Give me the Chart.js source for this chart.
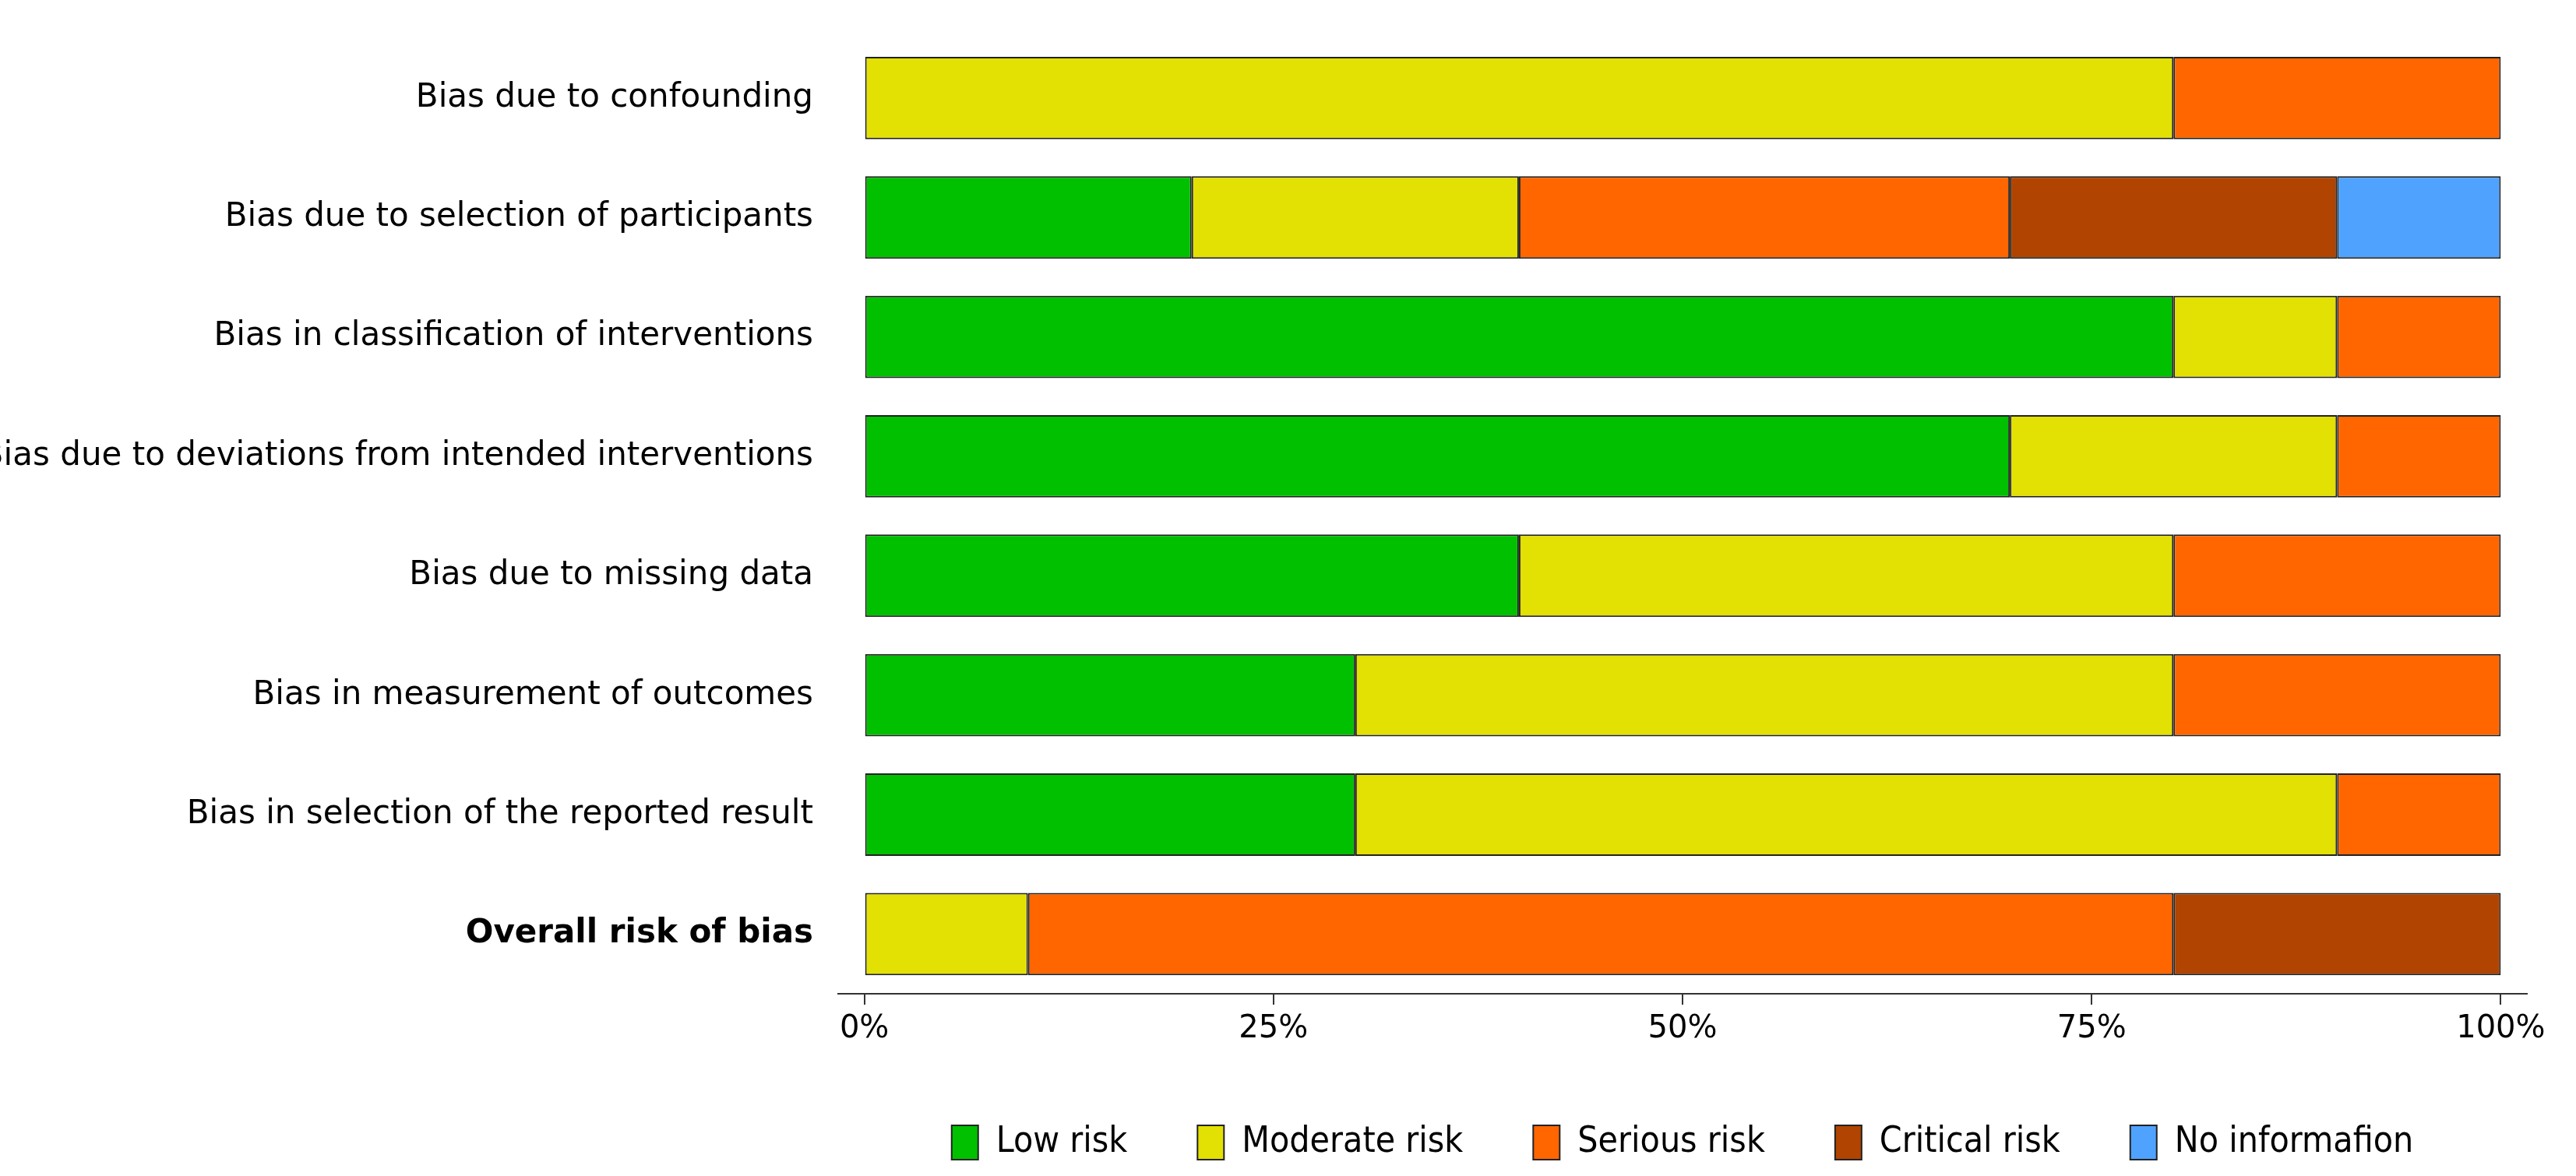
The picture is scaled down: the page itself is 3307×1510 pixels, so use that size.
<!DOCTYPE html>
<html>
<head>
<meta charset="utf-8">
<script src="https://cdn.jsdelivr.net/npm/chart.js@4"></script>
<style>
  body { margin: 0; background: #fff; }
  #wrap { width: 3307px; height: 1510px; }
</style>
</head>
<body>
<div id="wrap"><canvas id="robChart" width="3307" height="1510"></canvas></div>
<script>
const domains = [
  'Bias due to confounding',
  'Bias due to selection of participants',
  'Bias in classification of interventions',
  'Bias due to deviations from intended interventions',
  'Bias due to missing data',
  'Bias in measurement of outcomes',
  'Bias in selection of the reported result',
  'Overall risk of bias'
];
const lowRisk      = [null, 20, 80, 70, 40, 30, 30, null];
const moderateRisk = [80, 20, 10, 20, 40, 50, 60, 10];
const seriousRisk  = [20, 30, 10, 10, 20, 20, 10, 70];
const criticalRisk = [null, 20, null, null, null, null, null, 20];
const noInfo       = [null, 10, null, null, null, null, null, null];
const xTicks = [0, 25, 50, 75, 100];

function ds(label, data, color) {
  return { label, data, backgroundColor: color, borderColor: '#222', borderWidth: 2, borderSkipped: false,
           barPercentage: 0.69, categoryPercentage: 1 };
}

const ctx = document.getElementById('robChart').getContext('2d');
new Chart(ctx, {
  type: 'bar',
  data: {
    labels: domains,
    datasets: [
      ds('Low risk', lowRisk, '#00C000'),
      ds('Moderate risk', moderateRisk, '#E3E003'),
      ds('Serious risk', seriousRisk, '#FF6600'),
      ds('Critical risk', criticalRisk, '#B04400'),
      ds('No informafion', noInfo, '#4FA3FF')
    ]
  },
  options: {
    indexAxis: 'y',
    responsive: false,
    animation: false,
    layout: { padding: { left: 0, right: 63, top: -50, bottom: 10 } },
    plugins: {
      tooltip: { enabled: false },
      legend: {
        position: 'bottom',
        fullSize: false,
        labels: {
          font: { family: 'DejaVu Sans Condensed, DejaVu Sans', size: 46 },
          color: '#000', boxWidth: 34, boxHeight: 44, padding: 90
        }
      }
    },
    scales: {
      x: {
        stacked: true, min: -1.6, max: 101.6,
        afterBuildTicks: s => { s.ticks = xTicks.map(v => ({ value: v })); },
        ticks: { callback: v => v + '%', color: '#000', font: { family: 'DejaVu Sans', size: 40 }, padding: 8, maxRotation: 0 },
        grid: { drawOnChartArea: false, drawTicks: true, tickLength: 14, color: '#333', lineWidth: 2 },
        border: { display: true, color: '#333', width: 2 }
      },
      y: {
        stacked: true,
        afterFit: s => { s.width = 1076; },
        ticks: {
          color: '#000', padding: 24,
          font: c => ({ family: 'DejaVu Sans', size: 42, weight: c.index === 7 ? 'bold' : 'normal' })
        },
        grid: { display: false },
        border: { display: false }
      }
    }
  }
});
</script>
</body>
</html>
